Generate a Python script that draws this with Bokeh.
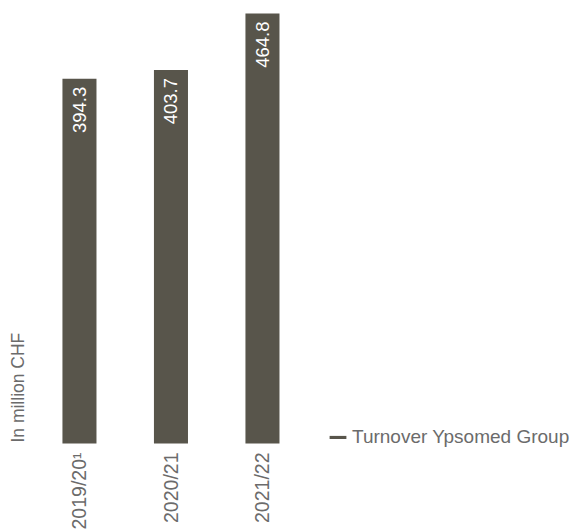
import math
from bokeh.plotting import figure
from bokeh.models import Range1d, FixedTicker, ColumnDataSource, Label, Legend, LegendItem
from bokeh.core.properties import value
from bokeh.embed import file_html
from bokeh.resources import INLINE

categories = ["2019/20¹", "2020/21", "2021/22"]
turnover = [394.3, 403.7, 464.8]
value_labels = ["394.3", "403.7", "464.8"]
series_name = "Turnover Ypsomed Group"
unit_label = "In million CHF"

BAR = "#58554b"
GREY = "#6b6b6b"
FONT = "Liberation Sans"

idx = list(range(len(categories)))
src = ColumnDataSource(dict(x=idx, top=turnover, lab=value_labels))

W, H = 570, 532
p = figure(width=W, height=H, output_backend="svg", toolbar_location=None,
           x_range=Range1d(-0.863, -0.863 + W / 91.5), y_range=Range1d(-6.49, 478.9),
           y_axis_location=None, min_border_left=0, min_border_right=0,
           min_border_top=0, min_border_bottom=H - 449)
p.outline_line_color = None
p.xgrid.visible = False
p.ygrid.visible = False

r = p.vbar(x="x", top="top", width=0.372, bottom=0, source=src,
           fill_color=BAR, line_color=None)

p.text(x="x", y="top", text="lab", source=src, angle=math.pi / 2,
       text_align="right", text_baseline="middle", y_offset=8,
       text_color="white", text_font=value(FONT), text_font_size="18.5px")

ax = p.xaxis[0]
ax.ticker = FixedTicker(ticks=idx)
ax.major_label_overrides = {i: c for i, c in zip(idx, categories)}
ax.major_label_orientation = math.pi / 2
ax.major_label_standoff = 3
ax.major_tick_in = 0
ax.major_tick_out = 0
ax.axis_line_color = None
ax.major_tick_line_color = None
ax.minor_tick_line_color = None
ax.major_label_text_font = FONT
ax.major_label_text_font_size = "19.5px"
ax.major_label_text_color = GREY

p.add_layout(Label(x=-0.677, y=1, text=unit_label, angle=math.pi / 2,
                   text_align="left", text_baseline="middle",
                   text_font=FONT, text_font_size="17.5px", text_color=GREY))

legend = Legend(items=[LegendItem(label=series_name, renderers=[r])],
                location=(327, 1), padding=0, margin=0, border_line_color=None,
                background_fill_alpha=0, glyph_width=21, glyph_height=4,
                label_height=18, label_standoff=4, label_text_font=FONT,
                label_text_font_size="19px", label_text_color=GREY, spacing=0)
p.add_layout(legend, "center")

open("out.html", "w").write(file_html(p, INLINE))
